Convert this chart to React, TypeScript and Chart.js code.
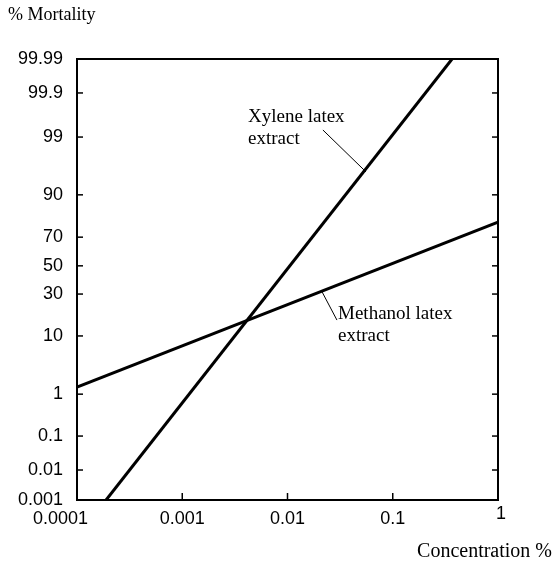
import React, { useEffect, useRef } from "react";
import { Chart, registerables } from "chart.js";

Chart.register(...registerables);

// X axis (log, concentration %)
const xTickValues = [0.0001, 0.001, 0.01, 0.1, 1];
const xTickLabels = ["0.0001", "0.001", "0.01", "0.1", "1"];

// Y axis (probability-type scale): label and its position on a 0..100 scale
const yTickLabels = ["0.001", "0.01", "0.1", "1", "10", "30", "50", "70", "90", "99", "99.9", "99.99"];
const yTickPos = [0, 6.8, 14.5, 24.0, 37.2, 46.7, 53.1, 59.6, 69.2, 82.3, 92.3, 100];

// Fitted lines (concentration, scale position)
const xyleneX = [0.000189, 0.366];
const xyleneY = [0, 100];
const methanolX = [0.0001, 1];
const methanolY = [25.6, 63.0];

// Annotations (text lines) and leader lines, in data coordinates
const xyleneLabel = ["Xylene latex", "extract"];
const xyleneLabelAt = [
  [0.00422, 85.7],
  [0.00422, 80.7],
];
const xyleneLeader = [
  [0.0217, 83.9],
  [0.0557, 74.4],
];
const methanolLabel = ["Methanol latex", "extract"];
const methanolLabelAt = [
  [0.0302, 41.0],
  [0.0302, 36.0],
];
const methanolLeader = [
  [0.0213, 47.2],
  [0.0295, 40.8],
];

const yTitle = "% Mortality";
const xTitle = "Concentration %";

const SERIF = '"Liberation Serif", "Times New Roman", serif';
const SANS = '"Liberation Sans", Arial, sans-serif';

const overlay = {
  id: "overlay",
  afterDatasetsDraw(chart: any) {
    const { ctx, chartArea, scales } = chart;
    const { left, right, top, bottom } = chartArea;
    const x = scales.x;
    const y = scales.y;
    const seg = (x1: number, y1: number, x2: number, y2: number) => {
      ctx.beginPath();
      ctx.moveTo(x1, y1);
      ctx.lineTo(x2, y2);
      ctx.stroke();
    };
    ctx.save();
    ctx.strokeStyle = "#000";
    ctx.lineWidth = 2;
    ctx.strokeRect(left, top, right - left, bottom - top);
    ctx.lineWidth = 1.5;
    yTickPos.forEach((v, i) => {
      if (i === 0 || i === yTickPos.length - 1) return;
      const py = y.getPixelForValue(v);
      seg(left, py, left + 6, py);
      seg(right, py, right - 6, py);
    });
    xTickValues.forEach((v, i) => {
      if (i === 0 || i === xTickValues.length - 1) return;
      const px = x.getPixelForValue(v);
      seg(px, bottom, px, bottom - 7);
    });
    // x tick labels
    ctx.fillStyle = "#000";
    ctx.font = "18px " + SANS;
    ctx.textBaseline = "top";
    xTickValues.forEach((v, i) => {
      const px = x.getPixelForValue(v);
      if (i === 0) {
        ctx.textAlign = "right";
        ctx.fillText(xTickLabels[i], px + 11, bottom + 10);
      } else if (i === xTickValues.length - 1) {
        ctx.textAlign = "center";
        ctx.fillText(xTickLabels[i], px + 3, bottom + 5);
      } else {
        ctx.textAlign = "center";
        ctx.fillText(xTickLabels[i], px, bottom + 10);
      }
    });
    // leader lines
    ctx.lineWidth = 1;
    [xyleneLeader, methanolLeader].forEach((l) => {
      seg(
        x.getPixelForValue(l[0][0]),
        y.getPixelForValue(l[0][1]),
        x.getPixelForValue(l[1][0]),
        y.getPixelForValue(l[1][1])
      );
    });
    // annotation text
    ctx.font = "19px " + SERIF;
    ctx.textAlign = "left";
    ctx.textBaseline = "alphabetic";
    xyleneLabel.forEach((t, i) => {
      ctx.fillText(t, x.getPixelForValue(xyleneLabelAt[i][0]), y.getPixelForValue(xyleneLabelAt[i][1]));
    });
    methanolLabel.forEach((t, i) => {
      ctx.fillText(t, x.getPixelForValue(methanolLabelAt[i][0]), y.getPixelForValue(methanolLabelAt[i][1]));
    });
    // axis titles
    ctx.font = "18px " + SERIF;
    ctx.textAlign = "left";
    ctx.fillText(yTitle, 8, 20);
    ctx.font = "20px " + SERIF;
    ctx.textAlign = "right";
    ctx.fillText(xTitle, 552, 557);
    ctx.restore();
  },
};

export default function App() {
  const ref = useRef<HTMLCanvasElement>(null);
  useEffect(() => {
    if (!ref.current) return;
    const chart = new Chart(ref.current, {
      type: "line",
      data: {
        datasets: [
          {
            label: "Xylene latex extract",
            data: xyleneX.map((v, i) => ({ x: v, y: xyleneY[i] })),
            borderColor: "#000",
            borderWidth: 3,
            pointRadius: 0,
            fill: false,
          },
          {
            label: "Methanol latex extract",
            data: methanolX.map((v, i) => ({ x: v, y: methanolY[i] })),
            borderColor: "#000",
            borderWidth: 3,
            pointRadius: 0,
            fill: false,
          },
        ],
      },
      options: {
        responsive: false,
        animation: false,
        layout: { padding: { left: 0, top: 59, right: 56, bottom: 0 } },
        plugins: {
          legend: { display: false },
          tooltip: { enabled: false },
          title: { display: false },
        },
        scales: {
          x: {
            type: "logarithmic",
            min: xTickValues[0],
            max: xTickValues[xTickValues.length - 1],
            grid: { display: false, drawTicks: false },
            border: { display: false },
            afterBuildTicks: (s: any) => {
              s.ticks = xTickValues.map((v) => ({ value: v }));
            },
            afterFit: (s: any) => {
              s.height = 61;
            },
            ticks: { display: false, autoSkip: false },
          },
          y: {
            type: "linear",
            min: 0,
            max: 100,
            grid: { display: false, drawTicks: false },
            border: { display: false },
            afterBuildTicks: (s: any) => {
              s.ticks = yTickPos.map((v) => ({ value: v }));
            },
            afterFit: (s: any) => {
              s.width = 77;
            },
            ticks: {
              autoSkip: false,
              padding: 14,
              color: "#000",
              font: { family: SANS, size: 18 },
              callback: (_v: any, i: number) => yTickLabels[i],
            },
          },
        },
      },
      plugins: [overlay],
    } as any);
    return () => chart.destroy();
  }, []);
  return (
    <div style={{ position: "absolute", left: 0, top: 0, width: 554, height: 561, background: "#fff" }}>
      <canvas ref={ref} width={554} height={561} />
    </div>
  );
}
